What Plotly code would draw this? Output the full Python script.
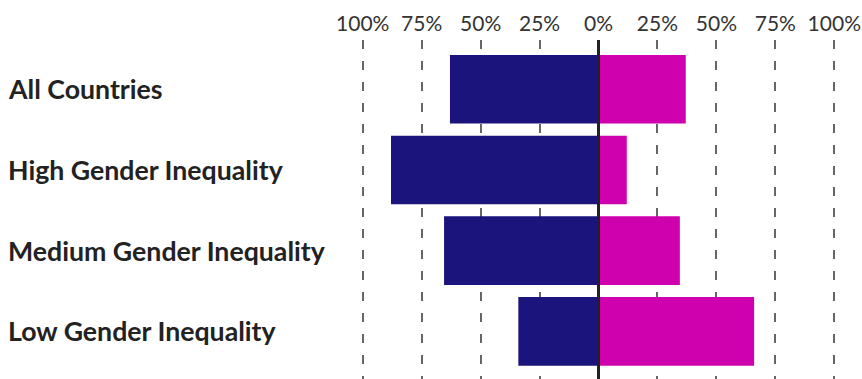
import plotly.graph_objects as go

# Categories (top to bottom) and the two shares, in percent
categories = ["All Countries", "High Gender Inequality",
              "Medium Gender Inequality", "Low Gender Inequality"]
left_values = [63, 88, 65.5, 34]     # drawn to the left of 0
right_values = [37, 12, 34.5, 66]    # drawn to the right of 0

tick_values = [-100, -75, -50, -25, 0, 25, 50, 75, 100]
tick_labels = ["100%", "75%", "50%", "25%", "0%", "25%", "50%", "75%", "100%"]

NAVY = "#1b147c"
MAGENTA = "#cf00ae"

fig = go.Figure()
fig.add_trace(go.Bar(
    y=categories, x=[-v for v in left_values], orientation="h",
    marker=dict(color=NAVY, line=dict(width=0)),
    customdata=left_values, hovertemplate="%{y}: %{customdata}%<extra></extra>",
    showlegend=False,
))
fig.add_trace(go.Bar(
    y=categories, x=right_values, orientation="h",
    marker=dict(color=MAGENTA, line=dict(width=0)),
    hovertemplate="%{y}: %{x}%<extra></extra>",
    showlegend=False,
))

# Category labels, left-aligned at the page edge
for cat in categories:
    fig.add_annotation(
        x=0, xref="paper", xshift=-352, xanchor="left",
        y=cat, yref="y", text=f"<b>{cat}</b>", showarrow=False,
        font=dict(family="Lato", size=26.7, color="#222222"),
    )

# Solid centre line at 0, above the bars
fig.add_shape(type="line", x0=0, x1=0, xref="x", y0=0, y1=1, yref="paper",
              line=dict(color="#222222", width=3), layer="above")

fig.update_layout(
    width=862, height=379,
    margin=dict(l=358, r=23, t=40, b=0),
    paper_bgcolor="white", plot_bgcolor="white",
    barmode="relative", bargap=0.15,
    font=dict(family="Lato", color="#333333"),
    xaxis=dict(
        side="top", range=[-102, 102],
        tickvals=tick_values, ticktext=tick_labels,
        tickfont=dict(family="Lato", size=21, color="#333333"),
        ticklabelstandoff=4,
        showgrid=True, gridcolor="#666666", gridwidth=1.5, griddash="9px,12px",
        zeroline=False, showline=False, ticks="", fixedrange=True,
    ),
    yaxis=dict(
        categoryorder="array", categoryarray=categories,
        range=[3.59, -0.61], showticklabels=False,
        showgrid=False, zeroline=False, showline=False, ticks="",
    ),
)

fig.write_html("out.html")
